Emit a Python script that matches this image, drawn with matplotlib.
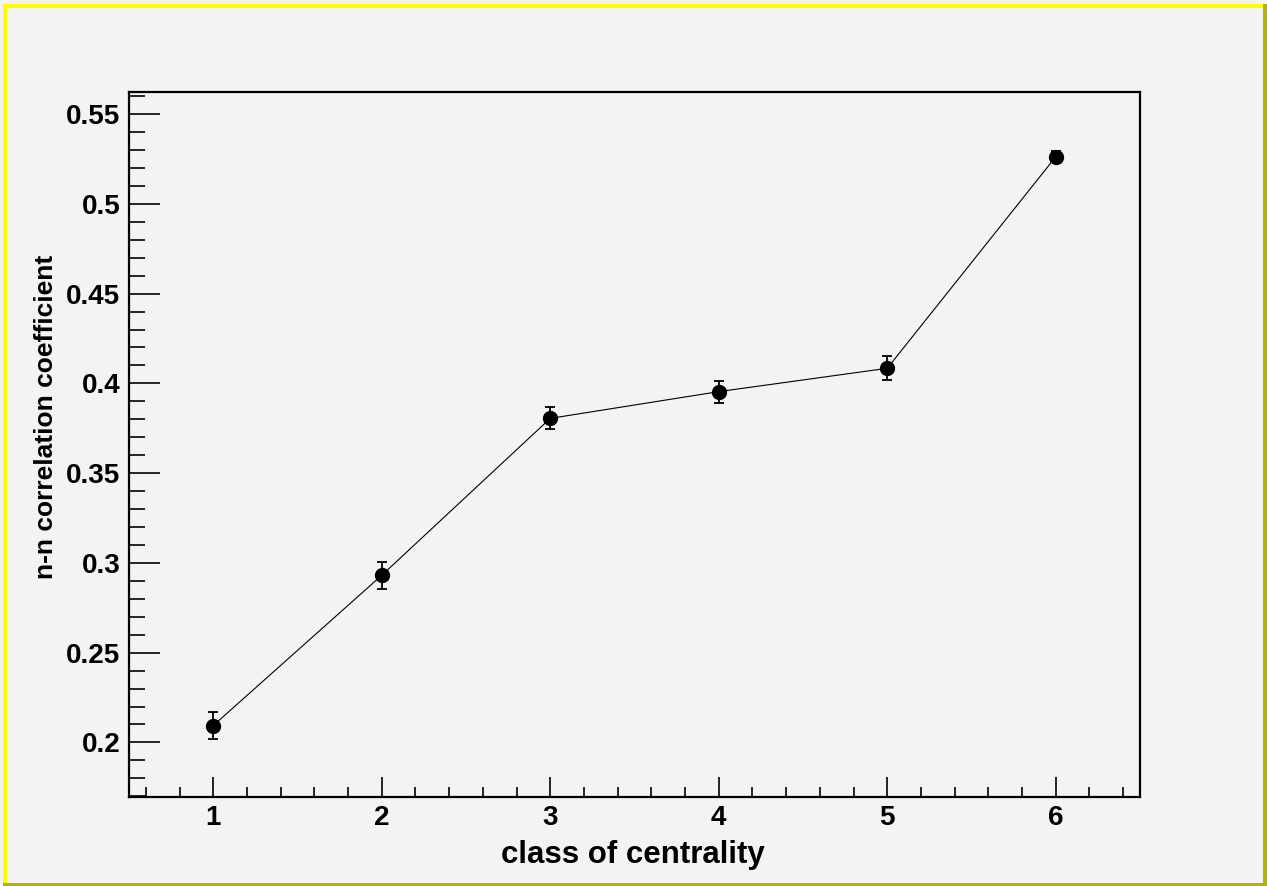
import matplotlib
matplotlib.use("Agg")
import matplotlib.pyplot as plt
from matplotlib.patches import Rectangle
import numpy as np

# ---- data ----
centrality_class = [1, 2, 3, 4, 5, 6]
nn_corr = [0.2094, 0.2931, 0.3805, 0.3954, 0.4084, 0.5262]
nn_err = [0.0075, 0.0075, 0.0061, 0.0061, 0.0067, 0.0030]
x_ticks = [1, 2, 3, 4, 5, 6]
x_ticklabels = ["1", "2", "3", "4", "5", "6"]
y_ticks = [0.2, 0.25, 0.3, 0.35, 0.4, 0.45, 0.5, 0.55]
y_ticklabels = ["0.2", "0.25", "0.3", "0.35", "0.4", "0.45", "0.5", "0.55"]
x_label = "class of centrality"
y_label = "n-n correlation coefficient"

W, H = 1267, 886
BG = "#f3f3f3"
plt.rcParams["font.family"] = ["Liberation Sans", "DejaVu Sans"]
plt.rcParams["font.weight"] = "bold"

fig = plt.figure(figsize=(W / 100, H / 100), dpi=100, facecolor=BG)

# canvas bevel border (ROOT style)
def px_rect(x0, y0, x1, y1, color):
    fig.patches.append(Rectangle((x0 / W, 1 - y1 / H), (x1 - x0) / W, (y1 - y0) / H,
                                 transform=fig.transFigure, facecolor=color,
                                 edgecolor="none", zorder=0))

px_rect(3, 4, 1267, 8, "#ffff00")
px_rect(3, 4, 7, 886, "#ffff00")
px_rect(1263, 4, 1267, 886, "#b4b400")
px_rect(3, 883, 1267, 886, "#b4b400")

L, R, T, B = 129, 1140, 92, 797
ax = fig.add_axes([L / W, 1 - B / H, (R - L) / W, (B - T) / H])
ax.set_facecolor(BG)

ax.plot(centrality_class, nn_corr, color="black", lw=0.8, zorder=2)
ax.errorbar(centrality_class, nn_corr, yerr=nn_err, fmt="none", ecolor="black",
            elinewidth=1.3, capsize=3.3, capthick=1.3, zorder=3)
ax.plot(centrality_class, nn_corr, "o", color="black", markersize=10, zorder=4)

ax.set_xlim(0.5, 6.5)
ax.set_ylim(0.1696, 0.5623)

ax.set_xticks(x_ticks)
ax.set_xticklabels(x_ticklabels)
ax.set_xticks(np.arange(0.6, 6.45, 0.2), minor=True)
ax.set_yticks(y_ticks)
ax.set_yticklabels(y_ticklabels)
ax.set_yticks(np.arange(0.17, 0.5601, 0.01), minor=True)

for s in ax.spines.values():
    s.set_linewidth(1.6)
ax.tick_params(axis="x", which="major", direction="in", length=14.4, width=1.2,
               labelsize=20, pad=6, top=False, bottom=True)
ax.tick_params(axis="x", which="minor", direction="in", length=7.2, width=1.2,
               top=False, bottom=True)
ax.tick_params(axis="y", which="major", direction="in", length=22.3, width=1.2,
               labelsize=20, pad=6.3, right=False, left=True)
ax.tick_params(axis="y", which="minor", direction="in", length=11.5, width=1.2,
               right=False, left=True)
for lab in ax.get_xticklabels() + ax.get_yticklabels():
    lab.set_fontweight("bold")

fig.text(633 / W, 1 - 863 / H, x_label, ha="center", va="baseline",
         fontsize=22.5, fontweight="bold")
fig.text(46 / W, 1 - 416.5 / H, y_label, ha="center", va="center",
         rotation=90, fontsize=19, fontweight="bold")

fig.savefig("out.png", dpi=100, facecolor=BG)
